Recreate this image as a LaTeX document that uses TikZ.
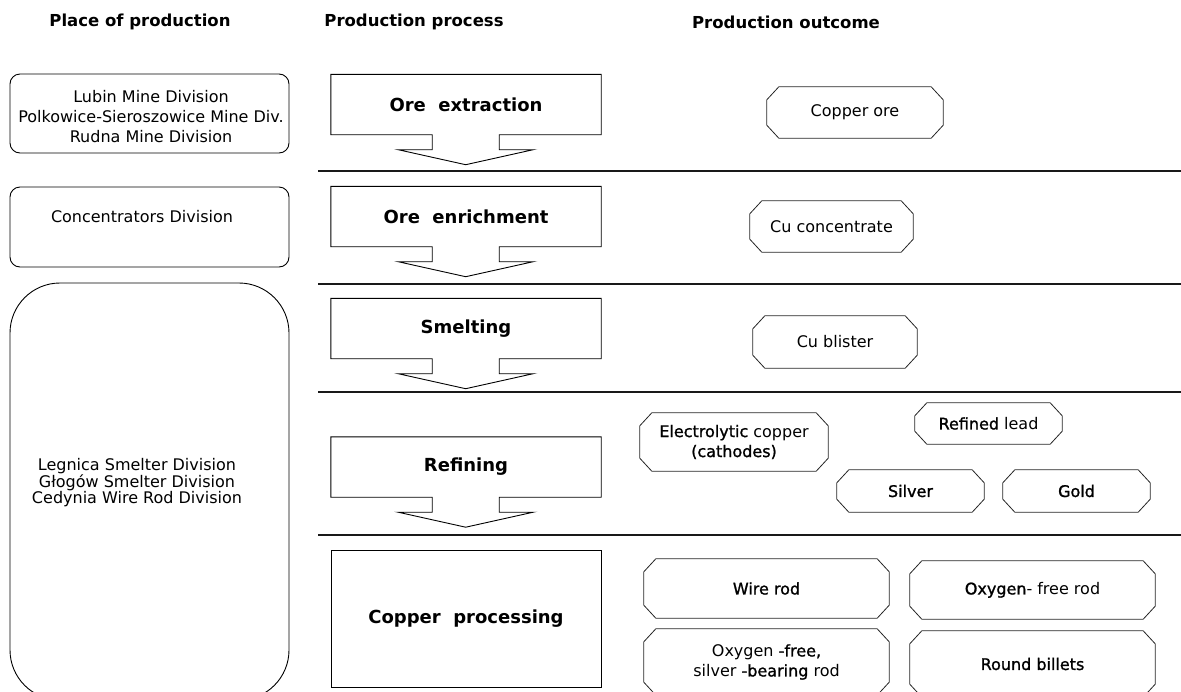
\documentclass[tikz,border=0pt]{standalone}
\usepackage{fontspec}
\setmainfont{DejaVu Sans}
\newfontfamily\dkfont[FakeBold=1.2]{DejaVu Sans}
\newcommand{\dk}[1]{{\dkfont #1}}

\begin{document}
\begin{tikzpicture}[
    x=1pt, y=-1pt,
    header/.style={font=\bfseries\fontsize{16.5}{19}\selectfont},
    place/.style={draw, line width=0.9pt, rounded corners=10pt, minimum width=279, inner sep=0},
    placetext/.style={align=center, font=\fontsize{16}{20}\selectfont},
    procbox/.style={minimum width=270, minimum height=60, inner sep=0, font=\bfseries\fontsize{18}{22}\selectfont},
    procline/.style={draw, line width=0.9pt},
    outcome/.style={rectangle, inner sep=0, align=center, font=\fontsize{16}{20}\selectfont},
    octline/.style={draw=black!85, line width=0.8pt},
    separator/.style={line width=1.7pt, draw=black!90}
]
    \clip (0,0) rectangle (1181,691);

    % ================= HEADERS =================
    \node[header] (hplace) at (140,22) {Place of production};
    \node[header] (hproc) at (414,22) {Production process};
    \node[header] (hout) at (786,22) {Production outcome};

    % ================= PLACE OF PRODUCTION =================
    \node[place, minimum height=79] (mines) at (149.5,113.5) {};
    \node[placetext] (minesTxt) at (151,117) {Lubin Mine Division\\Polkowice-Sieroszowice Mine Div.\\Rudna Mine Division};

    \node[place, minimum height=80] (conc) at (149.5,227) {};
    \node[placetext] (concTxt) at (142,217) {Concentrators Division};

    \node[place, rounded corners=50pt, minimum height=417] (smelters) at (149.5,491.5) {};
    \node[placetext, font=\fontsize{16}{16.5}\selectfont] (smeltersTxt) at (137,483) {Legnica Smelter Division\\G\l{}og\'ow Smelter Division\\Cedynia Wire Rod Division};

    % ================= PRODUCTION PROCESS =================
    \node[procbox] (extract) at (466,104.5) {Ore\ \ extraction};
    \node[procbox] (enrich) at (466,216.5) {Ore\ \ enrichment};
    \node[procbox] (smelt) at (466,328.5) {Smelting};
    \node[procbox] (refine) at (466,467) {Refining};
    \node[procbox, draw, line width=0.9pt, minimum height=137] (process) at (466,618.5) {Copper\ \ processing};

    % box with arrow below
    \foreach \n in {extract,enrich,smelt,refine}
        \draw[procline] (\n.south west) -- (\n.north west) -- (\n.north east) -- (\n.south east)
            -- ++(-102,0) -- ++(0,15) -- ++(34,0) -- ++(-67.5,15) -- ++(-67.5,-15) -- ++(34,0) -- ++(0,-15) -- cycle;

    % Separator lines
    \foreach \y in {171,284,392,535}
        \draw[separator] (318,\y) -- (1181,\y);

    % ================= PRODUCTION OUTCOME =================
    \node[outcome, minimum width=176, minimum height=51] (ore) at (855,112.5) {Copper ore};
    \node[outcome, minimum width=163, minimum height=51] (concentrate) at (831.5,226.5) {Cu concentrate};
    \node[outcome, minimum width=164, minimum height=52] (blister) at (835,342) {Cu blister};

    \node[outcome, minimum width=188, minimum height=58] (cathodes) at (734,442) {\dk{Electrolytic} copper\\\dk{(cathodes)}};
    \node[outcome, minimum width=147, minimum height=41] (lead) at (988.5,423.5) {\dk{Refined} lead};
    \node[outcome, minimum width=147, minimum height=42] (silver) at (910.5,491) {\dk{Silver}};
    \node[outcome, minimum width=147, minimum height=42] (gold) at (1076.5,491) {\dk{Gold}};

    \node[outcome, minimum width=245, minimum height=59] (wirerod) at (766.5,588.5) {\dk{Wire rod}};
    \node[outcome, minimum width=245, minimum height=58] (ofrod) at (1032.5,590) {\dk{Oxygen}- free rod};
    \node[outcome, minimum width=245, minimum height=66] (ofsrod) at (766.5,662) {Oxygen \dk{-free,}\\silver \dk{-bearing} rod};
    \node[outcome, minimum width=245, minimum height=66] (billets) at (1032.5,664) {\dk{Round billets}};

    % chamfered outlines
    \foreach \n in {ore,concentrate,blister,cathodes,lead,silver,gold,wirerod,ofrod,ofsrod,billets}
        \draw[octline] ([xshift=12pt]\n.north west) -- ([xshift=-12pt]\n.north east) -- ([yshift=-13pt]\n.north east)
            -- ([yshift=13pt]\n.south east) -- ([xshift=-12pt]\n.south east) -- ([xshift=12pt]\n.south west)
            -- ([yshift=13pt]\n.south west) -- ([yshift=-13pt]\n.north west) -- cycle;

\end{tikzpicture}
\end{document}
